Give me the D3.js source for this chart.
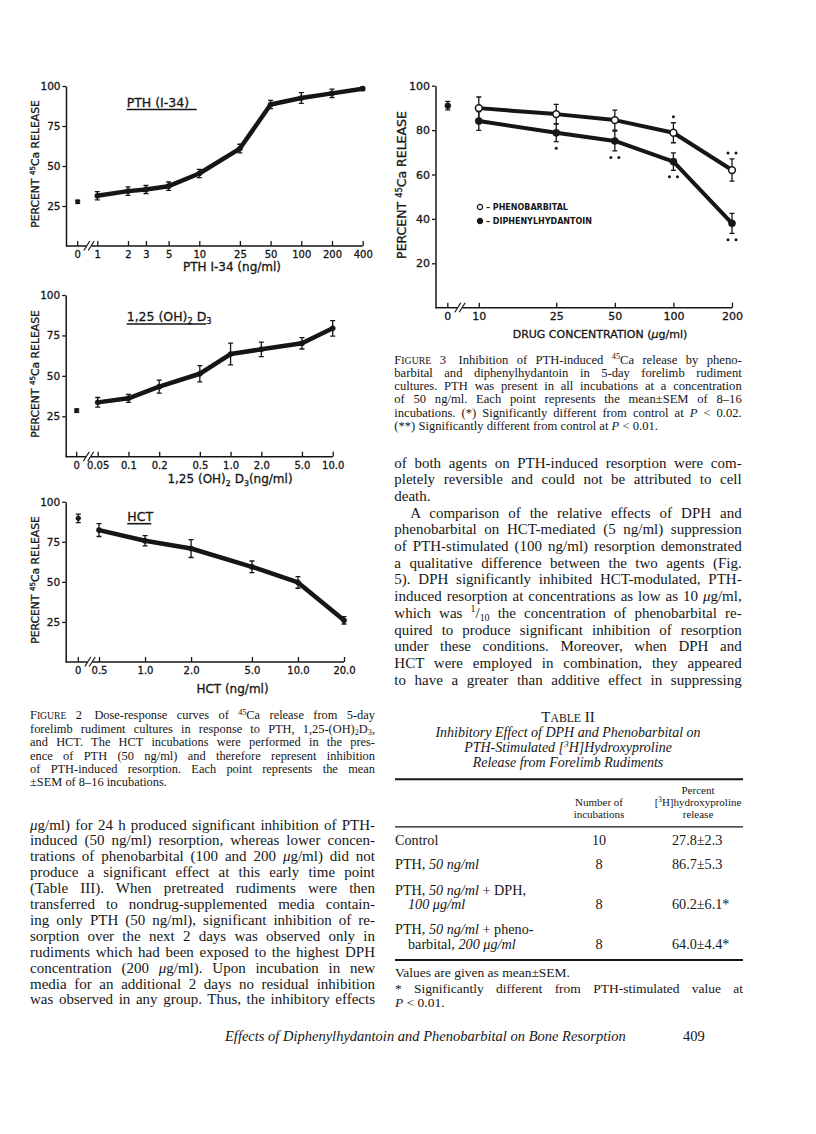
<!DOCTYPE html>
<html>
<head>
<meta charset="utf-8">
<script src="https://cdn.jsdelivr.net/npm/d3@7"></script>
<style>
  html, body { margin: 0; padding: 0; background: #fff; }
  svg { display: block; }
</style>
</head>
<body>
<script>
// ---------- Figure 2: PTH (1-34) ----------
const pthDoses = [1, 2, 3, 5, 10, 25, 50, 100, 200, 400];
const pthTickLabels = ['1', '2', '3', '5', '10', '25', '50', '100', '200', '400'];
const pthMean = [31.4, 34.3, 35.3, 37.4, 45.3, 60.9, 88.4, 92.5, 95.4, 98.3];
const pthSem = [2.6, 2.6, 2.5, 2.6, 2.6, 2.7, 2.6, 3.4, 2.6, 1.0];
const pthControlMean = 27.6;
const pthControlSem = 1.0;

// ---------- Figure 2: 1,25(OH)2D3 ----------
const vitDDoses = [0.05, 0.1, 0.2, 0.5, 1, 2, 5, 10];
const vitDTickLabels = ['0.05', '0.1', '0.2', '0.5', '1.0', '2.0', '5.0', '10.0'];
const vitDMean = [33.6, 36.1, 43.3, 51.3, 63.5, 66.4, 70.1, 79.4];
const vitDSem = [3.0, 2.5, 4.0, 5.0, 6.7, 4.5, 3.5, 4.8];
const vitDControlMean = 28.5;
const vitDControlSem = 1.0;

// ---------- Figure 2: HCT ----------
const hctDoses = [0.5, 1, 2, 5, 10, 20];
const hctTickLabels = ['0.5', '1.0', '2.0', '5.0', '10.0', '20.0'];
const hctMean = [82.3, 75.6, 70.8, 59.4, 49.6, 26.0];
const hctSem = [4.0, 3.2, 5.6, 3.6, 3.6, 2.3];
const hctControlMean = 89.6;
const hctControlSem = 2.6;

// ---------- Figure 3: drugs ----------
const drugDoses = [10, 25, 50, 100, 200];
const drugTickLabels = ['10', '25', '50', '100', '200'];
const phenoMean = [89.9, 87.2, 84.5, 78.8, 62.0];
const phenoSem = [5.0, 4.4, 4.5, 4.5, 5.0];
const phenoSig = [0, 0, 0, 1, 2];
const dphMean = [84.1, 78.8, 75.1, 65.8, 38.0];
const dphSem = [4.2, 4.0, 4.5, 3.9, 4.5];
const dphSig = [0, 1, 2, 2, 2];
const drugControlMean = 91.0;
const drugControlSem = 1.9;

const releaseTicks = [25, 50, 75, 100];
const drugReleaseTicks = [20, 40, 60, 80, 100];

// ---------- Table II ----------
const tableRowLabels = [
  ['Control'],
  ['PTH, ~{50 ng/ml}'],
  ['PTH, ~{50 ng/ml} + DPH,', '>~{100 μg/ml}'],
  ['PTH, ~{50 ng/ml} + pheno-', '>barbital, ~{200 μg/ml}']
];
const tableIncubations = [10, 8, 8, 8];
const tableMean = [27.8, 86.7, 60.2, 64.0];
const tableSem = [2.3, 5.3, 6.1, 4.4];
const tableSig = [false, false, true, true];

// ---------- running text ----------
// markup: ^{} superscript, _{} subscript, ~{} italic, #{} small caps,
// leading ">" = paragraph indent, trailing "$" = last line of paragraph
const fig2Caption = [
  'F#{igure} 2\u2003Dose-response curves of ^{45}Ca release from 5-day',
  'forelimb rudiment cultures in response to PTH, 1,25-(OH)_{2}D_{3},',
  'and HCT. The HCT incubations were performed in the pres-',
  'ence of PTH (50 ng/ml) and therefore represent inhibition',
  'of PTH-induced resorption. Each point represents the mean',
  '±SEM of 8–16 incubations.$'
];
const leftBody = [
  '~{μ}g/ml) for 24 h produced significant inhibition of PTH-',
  'induced (50 ng/ml) resorption, whereas lower concen-',
  'trations of phenobarbital (100 and 200 ~{μ}g/ml) did not',
  'produce a significant effect at this early time point',
  '(Table III). When pretreated rudiments were then',
  'transferred to nondrug-supplemented media contain-',
  'ing only PTH (50 ng/ml), significant inhibition of re-',
  'sorption over the next 2 days was observed only in',
  'rudiments which had been exposed to the highest DPH',
  'concentration (200 ~{μ}g/ml). Upon incubation in new',
  'media for an additional 2 days no residual inhibition',
  'was observed in any group. Thus, the inhibitory effects'
];
const fig3Caption = [
  'F#{igure} 3\u2003Inhibition of PTH-induced ^{45}Ca release by pheno-',
  'barbital and diphenylhydantoin in 5-day forelimb rudiment',
  'cultures. PTH was present in all incubations at a concentration',
  'of 50 ng/ml. Each point represents the mean±SEM of 8–16',
  'incubations. (*) Significantly different from control at ~{P} < 0.02.',
  '(**) Significantly different from control at ~{P} < 0.01.$'
];
const rightBody = [
  'of both agents on PTH-induced resorption were com-',
  'pletely reversible and could not be attributed to cell',
  'death.$',
  '>A comparison of the relative effects of DPH and',
  'phenobarbital on HCT-mediated (5 ng/ml) suppression',
  'of PTH-stimulated (100 ng/ml) resorption demonstrated',
  'a qualitative difference between the two agents (Fig.',
  '5). DPH significantly inhibited HCT-modulated, PTH-',
  'induced resorption at concentrations as low as 10 ~{μ}g/ml,',
  'which was ^{1}/_{10} the concentration of phenobarbital re-',
  'quired to produce significant inhibition of resorption',
  'under these conditions. Moreover, when DPH and',
  'HCT were employed in combination, they appeared',
  'to have a greater than additive effect in suppressing'
];

const INK = '#161616';
const SERIF = "'Liberation Serif', 'DejaVu Serif', serif";
const SANS = "'DejaVu Sans', sans-serif";

const svg = d3.select('body').append('svg')
  .attr('width', 816)
  .attr('height', 1134)
  .style('background', '#fff');

// Writes a line with the small markup above into a <text>
function richText(parent, str, o) {
  const fs = o.fs;
  const text = parent.append('text')
    .attr('x', o.x)
    .attr('y', o.y)
    .attr('font-family', o.family || SERIF)
    .attr('font-size', fs)
    .attr('fill', INK)
    .attr('text-anchor', o.anchor || 'start');
  if (o.weight) text.attr('font-weight', o.weight);
  if (o.italic) text.attr('font-style', 'italic');
  if (o.transform) text.attr('transform', o.transform);
  if (o.heavy) text.attr('stroke', INK).attr('stroke-width', o.heavy);

  const re = /([\^_~#])\{([^}]*)\}/g;
  const parts = [];
  let last = 0, m;
  while ((m = re.exec(str))) {
    if (m.index > last) parts.push({ t: str.slice(last, m.index) });
    parts.push({ t: m[2], k: m[1] });
    last = re.lastIndex;
  }
  if (last < str.length) parts.push({ t: str.slice(last) });

  let shift = 0;
  parts.forEach(p => {
    const ts = text.append('tspan').text(p.t);
    let want = 0;
    if (p.k === '^') { want = -0.36 * fs; ts.attr('font-size', fs * 0.66); }
    if (p.k === '_') { want = 0.2 * fs; ts.attr('font-size', fs * 0.66); }
    if (p.k === '~') ts.attr('font-style', 'italic');
    if (p.k === '#') ts.attr('font-size', fs * 0.78).text(p.t.toUpperCase());
    if (want !== shift) { ts.attr('dy', want - shift); shift = want; }
  });
  return text;
}

// justify a line to the column width, squeeze when too long
function fitLine(text, width, justify) {
  const natural = text.node().getComputedTextLength();
  const spaces = (text.text().match(/ /g) || []).length;
  if (natural > width) {
    text.attr('textLength', width).attr('lengthAdjust', 'spacingAndGlyphs');
  } else if (justify && spaces) {
    text.attr('word-spacing', (width - natural) / spaces);
  }
}

function drawBlock(lines, o) {
  lines.forEach((raw, i) => {
    let s = raw, dx = 0, justify = true;
    if (s.startsWith('>')) { s = s.slice(1); dx = o.indent || 0; }
    if (s.endsWith('$')) { s = s.slice(0, -1); justify = false; }
    const t = richText(svg, s, { x: o.x + dx, y: o.y + i * o.lh + 0.3 * o.fs, fs: o.fs });
    fitLine(t, o.width - dx, justify);
  });
}

class DosePanel {
  constructor() {
    // Defining state attributes
    const attrs = {
      container: svg,
      axisX: 66,
      top: 86,
      base: 246,
      xRange: [97, 363],
      zeroX: 78,
      breakX: 89,
      doses: [],
      tickLabels: [],
      yTicks: releaseTicks,
      series: [],
      control: null,
      title: null,
      titleX: 0,
      titleY: 0,
      titleWidth: 0,
      titleFs: 12.5,
      xTitle: '',
      xTitleX: 0,
      xTitleY: 0,
      xTitleFs: 12,
      yTitle: 'PERCENT ^{45}Ca RELEASE',
      yTitleX: 35,
      yTitleY: 160,
      yTitleFs: 10.8,
      yTickFs: 10.5,
      xTickFs: 10,
      xTickPad: 5,
      lineWidth: 4.5,
      legend: [],
      heavy: 0.3,
      defaultFont: SANS
    };

    this.getState = () => attrs;
    this.setState = (d) => Object.assign(attrs, d);
  }

  render() {
    this.calculateScales();
    this.drawAxes();
    this.drawTitles();
    this.drawSeries();
    this.drawLegend();
    return this;
  }

  calculateScales() {
    const { doses, xRange, top, base, container } = this.getState();
    const x = d3.scaleLog().domain([doses[0], doses[doses.length - 1]]).range(xRange);
    const y = d3.scaleLinear().domain([0, 100]).range([base, top]);
    const chart = container.append('g');
    this.setState({ x, y, chart });
  }

  drawAxes() {
    const { chart, x, y, axisX, base, zeroX, breakX, xRange, doses, tickLabels,
      yTicks, yTickFs, xTickFs, xTickPad, heavy, defaultFont } = this.getState();

    // y axis
    const gy = chart.append('g')
      .attr('transform', `translate(${axisX},0)`)
      .call(d3.axisLeft(y).tickValues(yTicks).tickSizeInner(3.5).tickSizeOuter(0).tickPadding(2));
    gy.select('.domain').attr('stroke', INK).attr('stroke-width', 1.5);
    gy.selectAll('.tick line').attr('stroke', INK).attr('stroke-width', 1.3);
    gy.selectAll('text').attr('font-family', defaultFont).attr('font-size', yTickFs)
      .attr('fill', INK).attr('stroke', INK).attr('stroke-width', heavy);

    // x axis, ticks pointing up
    const gx = chart.append('g')
      .attr('transform', `translate(0,${base})`)
      .call(d3.axisBottom(x).tickValues(doses).tickFormat((d, i) => tickLabels[i])
        .tickSizeInner(-5).tickSizeOuter(0).tickPadding(xTickPad));
    gx.select('.domain').remove();
    gx.selectAll('.tick line').attr('stroke', INK).attr('stroke-width', 1.3);

    // zero dose tick
    const z = gx.append('g').attr('class', 'tick').attr('transform', `translate(${zeroX},0)`);
    z.append('line').attr('y2', -5).attr('stroke', INK).attr('stroke-width', 1.3);
    z.append('text').attr('y', xTickPad).attr('dy', '0.71em').attr('text-anchor', 'middle').text('0');

    gx.selectAll('text').attr('font-family', defaultFont).attr('font-size', xTickFs)
      .attr('fill', INK).attr('stroke', INK).attr('stroke-width', heavy);

    // baseline with the axis break
    const segs = [[axisX, breakX - 2.5], [breakX + 2.5, xRange[1]]];
    chart.selectAll(null).data(segs).enter().append('line')
      .attr('x1', d => d[0]).attr('x2', d => d[1])
      .attr('y1', base).attr('y2', base)
      .attr('stroke', INK).attr('stroke-width', 1.5);
    chart.selectAll(null).data([-2.2, 2.2]).enter().append('line')
      .attr('x1', d => breakX + d - 3).attr('y1', base + 4.5)
      .attr('x2', d => breakX + d + 3).attr('y2', base - 5)
      .attr('stroke', INK).attr('stroke-width', 1.2);
  }

  drawTitles() {
    const { chart, title, titleX, titleY, titleWidth, titleFs, xTitle, xTitleX, xTitleY,
      xTitleFs, yTitle, yTitleX, yTitleY, yTitleFs, heavy, defaultFont } = this.getState();

    if (title) {
      richText(chart, title, { x: titleX, y: titleY + 0.36 * titleFs, fs: titleFs, family: defaultFont, heavy });
      chart.append('line')
        .attr('x1', titleX).attr('x2', titleX + titleWidth)
        .attr('y1', titleY + 7.5).attr('y2', titleY + 7.5)
        .attr('stroke', INK).attr('stroke-width', 1.6);
    }
    richText(chart, xTitle, { x: xTitleX, y: xTitleY + 0.36 * xTitleFs, fs: xTitleFs, family: defaultFont, anchor: 'middle', heavy });
    richText(chart, yTitle, {
      x: 0, y: 0.36 * yTitleFs, fs: yTitleFs, family: defaultFont, anchor: 'middle', heavy,
      transform: `translate(${yTitleX},${yTitleY}) rotate(-90)`
    });
  }

  drawSeries() {
    const { chart, x, y, doses, series, control, zeroX, lineWidth } = this.getState();

    const line = d3.line().x(d => x(d.dose)).y(d => y(d.mean));
    const sets = series.map(s => doses.map((dose, i) => ({
      dose, mean: s.mean[i], sem: s.sem[i], sig: s.sig ? s.sig[i] : 0,
      cx: x(dose), marker: s.marker, r: s.r, sigSide: s.sigSide
    })));

    chart.selectAll(null).data(sets).enter().append('path')
      .attr('d', line)
      .attr('fill', 'none')
      .attr('stroke', INK)
      .attr('stroke-width', lineWidth)
      .attr('stroke-linejoin', 'round');

    let pts = sets.flat();
    if (control) {
      pts = pts.concat([{ mean: control.mean, sem: control.sem, cx: zeroX, marker: 'filled', r: control.r, sig: 0 }]);
    }

    // error bars
    chart.selectAll(null).data(pts).enter().append('path')
      .attr('d', d => {
        const hi = y(d.mean + d.sem), lo = y(d.mean - d.sem);
        return `M${d.cx - 2.5},${hi}H${d.cx + 2.5}M${d.cx},${hi}V${lo}M${d.cx - 2.5},${lo}H${d.cx + 2.5}`;
      })
      .attr('fill', 'none')
      .attr('stroke', INK)
      .attr('stroke-width', 1.3);

    // markers
    chart.selectAll(null).data(pts).enter().append('circle')
      .attr('cx', d => d.cx)
      .attr('cy', d => y(d.mean))
      .attr('r', d => d.r)
      .attr('fill', d => d.marker === 'open' ? '#fff' : INK)
      .attr('stroke', INK)
      .attr('stroke-width', d => d.marker === 'open' ? 1.5 : 0.5);

    // significance marks
    const dots = [];
    pts.filter(d => d.sig > 0).forEach(d => {
      const cy = d.sigSide === 'above' ? y(d.mean + d.sem) - 6 : y(d.mean - d.sem) + 6.5;
      const offs = d.sig === 1 ? [0] : [-4, 4];
      offs.forEach(o => dots.push({ cx: d.cx + o, cy }));
    });
    chart.selectAll(null).data(dots).enter().append('circle')
      .attr('cx', d => d.cx).attr('cy', d => d.cy).attr('r', 1.5).attr('fill', INK);
  }

  drawLegend() {
    const { chart, legend, defaultFont } = this.getState();
    const g = chart.selectAll(null).data(legend).enter().append('g')
      .attr('transform', d => `translate(${d.x},${d.y})`);
    g.append('circle')
      .attr('r', 2.6)
      .attr('fill', d => d.marker === 'open' ? '#fff' : INK)
      .attr('stroke', INK)
      .attr('stroke-width', 1.2);
    g.append('text')
      .attr('x', 6).attr('dy', '0.35em')
      .attr('font-family', defaultFont)
      .attr('font-size', 8)
      .attr('font-weight', 'bold')
      .attr('fill', INK)
      .text(d => d.label);
  }
}

// ---------- Figure 2 panels ----------
const p1 = new DosePanel();
p1.setState({
  axisX: 66, top: 86, base: 246, xRange: [97.3, 362.7], zeroX: 77.7, breakX: 89,
  doses: pthDoses, tickLabels: pthTickLabels,
  series: [{ mean: pthMean, sem: pthSem, marker: 'filled', r: 2.6 }],
  control: { mean: pthControlMean, sem: pthControlSem, r: 2.2 },
  title: 'PTH (I-34)', titleX: 126.7, titleY: 102, titleWidth: 70,
  xTitle: 'PTH I-34 (ng/ml)', xTitleX: 232, xTitleY: 266.7,
  yTitleX: 35, yTitleY: 164
});
p1.render();

const p2 = new DosePanel();
p2.setState({
  axisX: 65.7, top: 295, base: 456.7, xRange: [97.7, 332.7], zeroX: 76.7, breakX: 88.5,
  doses: vitDDoses, tickLabels: vitDTickLabels,
  series: [{ mean: vitDMean, sem: vitDSem, marker: 'filled', r: 2.6 }],
  control: { mean: vitDControlMean, sem: vitDControlSem, r: 2.2 },
  title: '1,25 (OH)_{2} D_{3}', titleX: 126.7, titleY: 316.5, titleWidth: 79.5,
  xTitle: '1,25 (OH)_{2} D_{3}(ng/ml)', xTitleX: 230, xTitleY: 479,
  yTitleX: 35, yTitleY: 374
});
p2.render();

const p3 = new DosePanel();
p3.setState({
  axisX: 65.7, top: 501.7, base: 662, xRange: [99, 344], zeroX: 78.3, breakX: 90,
  doses: hctDoses, tickLabels: hctTickLabels,
  series: [{ mean: hctMean, sem: hctSem, marker: 'filled', r: 2.6 }],
  control: { mean: hctControlMean, sem: hctControlSem, r: 2.4 },
  title: 'HCT', titleX: 127.3, titleY: 516.2, titleWidth: 24,
  xTitle: 'HCT (ng/ml)', xTitleX: 232.5, xTitleY: 688.3,
  yTitleX: 35, yTitleY: 580
});
p3.render();

// ---------- Figure 3 ----------
const p4 = new DosePanel();
p4.setState({
  axisX: 435.5, top: 85.7, base: 307.7, xRange: [478.8, 732], zeroX: 447.8, breakX: 460,
  doses: drugDoses, tickLabels: drugTickLabels, yTicks: drugReleaseTicks,
  series: [
    { mean: phenoMean, sem: phenoSem, sig: phenoSig, sigSide: 'above', marker: 'open', r: 3.4 },
    { mean: dphMean, sem: dphSem, sig: dphSig, sigSide: 'below', marker: 'filled', r: 3.6 }
  ],
  control: { mean: drugControlMean, sem: drugControlSem, r: 3 },
  xTitle: 'DRUG  CONCENTRATION (~{μ}g/ml)', xTitleX: 600, xTitleY: 334.3, xTitleFs: 11,
  yTitleX: 401.7, yTitleY: 185, yTitleFs: 12.5,
  yTickFs: 11, xTickFs: 11, xTickPad: 5,
  lineWidth: 4,
  legend: [
    { x: 480, y: 207, marker: 'open', label: '– PHENOBARBITAL' },
    { x: 480, y: 221, marker: 'filled', label: '– DIPHENYLHYDANTOIN' }
  ]
});
p4.render();

// ---------- captions and running text ----------
drawBlock(fig2Caption, { x: 30, y: 715.7, width: 345, lh: 13.4, fs: 12.4 });
drawBlock(leftBody, { x: 30, y: 825, width: 345, lh: 15.9, fs: 15 });
drawBlock(fig3Caption, { x: 394.3, y: 360, width: 347.4, lh: 13.2, fs: 12.6 });
drawBlock(rightBody, { x: 394.3, y: 463.3, width: 347.4, lh: 16.67, fs: 15, indent: 16 });

// ---------- Table II ----------
const tableLeft = 395, tableRight = 743, tableMid = 568;
richText(svg, 'T#{able} II', { x: tableMid, y: 716.7 + 5, fs: 15, anchor: 'middle' });
['Inhibitory Effect of DPH and Phenobarbital on', 'PTH-Stimulated [^{3}H]Hydroxyproline', 'Release from Forelimb Rudiments']
  .forEach((s, i) => richText(svg, s, { x: tableMid, y: 732.7 + i * 15.3 + 4, fs: 14, anchor: 'middle', italic: true }));

svg.selectAll(null).data([[779.3, 2], [826.8, 1.2], [960, 2]]).enter().append('line')
  .attr('x1', tableLeft).attr('x2', tableRight)
  .attr('y1', d => d[0]).attr('y2', d => d[0])
  .attr('stroke', INK).attr('stroke-width', d => d[1]);

[['Number of', 802.3], ['incubations', 814.3]].forEach(([s, yy]) =>
  richText(svg, s, { x: 599, y: yy + 3.3, fs: 11, anchor: 'middle' }));
[['Percent', 790.7], ['[^{3}H]hydroxyproline', 802.3], ['release', 814.3]].forEach(([s, yy]) =>
  richText(svg, s, { x: 698, y: yy + 3.3, fs: 11, anchor: 'middle' }));

const rowTops = [840.7, 865, 890.7, 930];
tableRowLabels.forEach((lines, r) => {
  let yy = rowTops[r];
  lines.forEach((raw, k) => {
    const indent = raw.startsWith('>') ? 13 : 0;
    yy = rowTops[r] + k * 14.3;
    richText(svg, raw.replace(/^>/, ''), { x: tableLeft + indent, y: yy + 4.3, fs: 14.2 });
  });
  richText(svg, String(tableIncubations[r]), { x: 599, y: yy + 4.3, fs: 14.2, anchor: 'middle' });
  richText(svg, `${tableMean[r].toFixed(1)}±${tableSem[r].toFixed(1)}${tableSig[r] ? '*' : ''}`,
    { x: 672, y: yy + 4.3, fs: 14.2 });
});

richText(svg, 'Values are given as mean±SEM.', { x: tableLeft, y: 972.7 + 4, fs: 13.5 });
fitLine(richText(svg, '* Significantly different from PTH-stimulated value at', { x: tableLeft, y: 988.7 + 4, fs: 13.5 }),
  tableRight - tableLeft, true);
richText(svg, '~{P} < 0.01.', { x: tableLeft, y: 1002.7 + 4, fs: 13.5 });

// ---------- running foot ----------
richText(svg, 'Effects of Diphenylhydantoin and Phenobarbital on Bone Resorption',
  { x: 225, y: 1036 + 4.5, fs: 14.5, italic: true });
richText(svg, '409', { x: 683, y: 1036 + 4.5, fs: 14.5 });
</script>
</body>
</html>
